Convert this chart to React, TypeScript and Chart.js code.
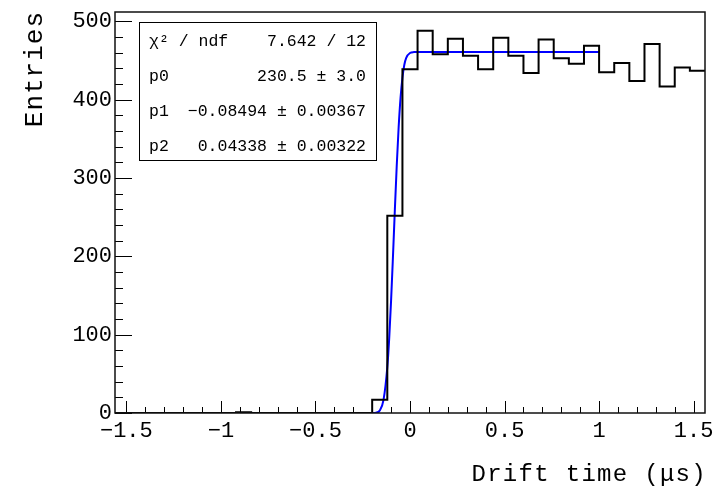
import React, { useEffect, useRef } from "react";
import { Chart, registerables } from "chart.js";

Chart.register(...registerables);

// Histogram: 39 bins of width 0.08 from -1.56 to 1.56
const BIN_LOW = -1.56;
const BIN_WIDTH = 0.08;
const COUNTS = [
  0, 0, 0, 0, 0, 0, 0, 0, 1, 0, 0, 0, 0, 0, 0, 0, 0,
  17, 252, 439,
  488, 458, 478, 456, 439, 479, 456, 434, 477, 453, 446, 469, 435, 447, 424, 471, 417, 441, 437,
];

// Fit curve
const FIT_X = [-0.5, -0.2, -0.18, -0.16, -0.14, -0.12, -0.11, -0.1, -0.09, -0.08, -0.07, -0.06, -0.05, -0.04, -0.03, -0.02, 0.0, 0.02, 0.05, 1.0];
const FIT_Y = [0, 0.1, 0.4, 3.2, 16.8, 58.4, 95.3, 143.8, 200.3, 260.0, 316.6, 365.1, 402.3, 428.0, 444.6, 453.4, 459.7, 460.8, 461.0, 461.0];

const X_TICKS = [-1.5, -1, -0.5, 0, 0.5, 1, 1.5];
const Y_TICKS = [0, 100, 200, 300, 400, 500];
const X_MIN = -1.56;
const X_MAX = 1.56;
const Y_MAX = 512;

const X_TITLE = "Drift time (μs)";
const Y_TITLE = "Entries";

const STAT_LABELS = ["χ² / ndf", "p0", "p1", "p2"];
const STAT_VALUES = ["7.642 / 12", "230.5 ± 3.0", "−0.08494 ± 0.00367", "0.04338 ± 0.00322"];

const MONO = '"Liberation Mono", "DejaVu Sans Mono", monospace';

const rootPlugin = {
  id: "rootStyle",
  afterDraw(chart: any) {
    const { ctx, chartArea: a, scales } = chart;
    const x = scales.x;
    const y = scales.y;
    ctx.save();
    ctx.letterSpacing = "0px";
    // tick marks
    ctx.strokeStyle = "#000";
    ctx.lineWidth = 1;
    ctx.beginPath();
    for (let i = -15; i <= 15; i++) {
      const px = Math.round(x.getPixelForValue(i / 10)) + 0.5;
      const len = i % 5 === 0 ? 12 : 6;
      ctx.moveTo(px, a.bottom);
      ctx.lineTo(px, a.bottom - len);
    }
    for (let v = 0; v <= Y_MAX; v += 20) {
      const py = Math.round(y.getPixelForValue(v)) + 0.5;
      const len = v % 100 === 0 ? 17 : 8;
      ctx.moveTo(a.left, py);
      ctx.lineTo(a.left + len, py);
    }
    ctx.stroke();
    // frame
    ctx.lineWidth = 1.5;
    ctx.strokeStyle = "#111";
    ctx.strokeRect(a.left, a.top, a.right - a.left, a.bottom - a.top);

    // stats box
    const bx = 139.5, by = 22.5, bw = 237, bh = 138;
    ctx.fillStyle = "#fff";
    ctx.fillRect(bx, by, bw, bh);
    ctx.lineWidth = 1;
    ctx.strokeStyle = "#000";
    ctx.strokeRect(bx, by, bw, bh);
    ctx.fillStyle = "#000";
    ctx.font = `16.5px ${MONO}`;
    ctx.textBaseline = "alphabetic";
    for (let i = 0; i < STAT_LABELS.length; i++) {
      const base = 46 + i * 35;
      ctx.textAlign = "left";
      ctx.fillText(STAT_LABELS[i], 149, base);
      ctx.textAlign = "right";
      ctx.fillText(STAT_VALUES[i], 366, base);
    }

    // axis titles
    ctx.font = `24px ${MONO}`;
    ctx.letterSpacing = "1.3px";
    ctx.textAlign = "right";
    ctx.fillText(X_TITLE, a.right + 2, 481);
    ctx.save();
    ctx.translate(42, 11);
    ctx.rotate(-Math.PI / 2);
    ctx.font = `26px ${MONO}`;
    ctx.letterSpacing = "1px";
    ctx.textAlign = "right";
    ctx.fillText(Y_TITLE, 0, 0);
    ctx.restore();
    ctx.restore();
  },
};

export default function App() {
  const ref = useRef<HTMLCanvasElement | null>(null);
  useEffect(() => {
    document.body.style.margin = "0";
    const histData = COUNTS.map((c, i) => ({ x: BIN_LOW + i * BIN_WIDTH, y: c }));
    histData.push({ x: BIN_LOW + COUNTS.length * BIN_WIDTH, y: COUNTS[COUNTS.length - 1] });
    const fitData = FIT_X.map((v, i) => ({ x: v, y: FIT_Y[i] }));
    const zeroPad = (s: any) => {
      s.paddingLeft = 0;
      s.paddingRight = 0;
      s.paddingTop = 0;
      s.paddingBottom = 0;
    };
    const chart = new Chart(ref.current as HTMLCanvasElement, {
      type: "line",
      data: {
        datasets: [
          {
            data: histData,
            stepped: "before",
            borderColor: "#000",
            borderWidth: 2,
            pointRadius: 0,
            fill: false,
          },
          {
            data: fitData,
            borderColor: "#0000ff",
            borderWidth: 2,
            pointRadius: 0,
            cubicInterpolationMode: "monotone",
            fill: false,
          },
        ],
      },
      options: {
        responsive: false,
        animation: false,
        layout: { padding: { left: 0, right: 12, top: 12, bottom: 0 } },
        plugins: { legend: { display: false }, tooltip: { enabled: false } },
        scales: {
          x: {
            type: "linear",
            min: X_MIN,
            max: X_MAX,
            grid: { display: false, drawTicks: false },
            border: { display: false },
            afterBuildTicks: (s: any) => {
              s.ticks = X_TICKS.map((v) => ({ value: v }));
            },
            afterFit: (s: any) => {
              s.height = 74;
              zeroPad(s);
            },
            ticks: {
              padding: 5,
              maxRotation: 0,
              autoSkip: false,
              color: "#000",
              font: { family: MONO, size: 22 },
              callback: (v: any) => String(v).replace("-", "−"),
            },
          },
          y: {
            type: "linear",
            min: 0,
            max: Y_MAX,
            grid: { display: false, drawTicks: false },
            border: { display: false },
            afterBuildTicks: (s: any) => {
              s.ticks = Y_TICKS.map((v) => ({ value: v }));
            },
            afterFit: (s: any) => {
              s.width = 115;
              zeroPad(s);
            },
            ticks: {
              padding: 3,
              color: "#000",
              font: { family: MONO, size: 22 },
            },
          },
        },
      },
      plugins: [rootPlugin],
    });
    return () => chart.destroy();
  }, []);
  return (
    <div style={{ width: 717, height: 487 }}>
      <canvas ref={ref} width={717} height={487} />
    </div>
  );
}
